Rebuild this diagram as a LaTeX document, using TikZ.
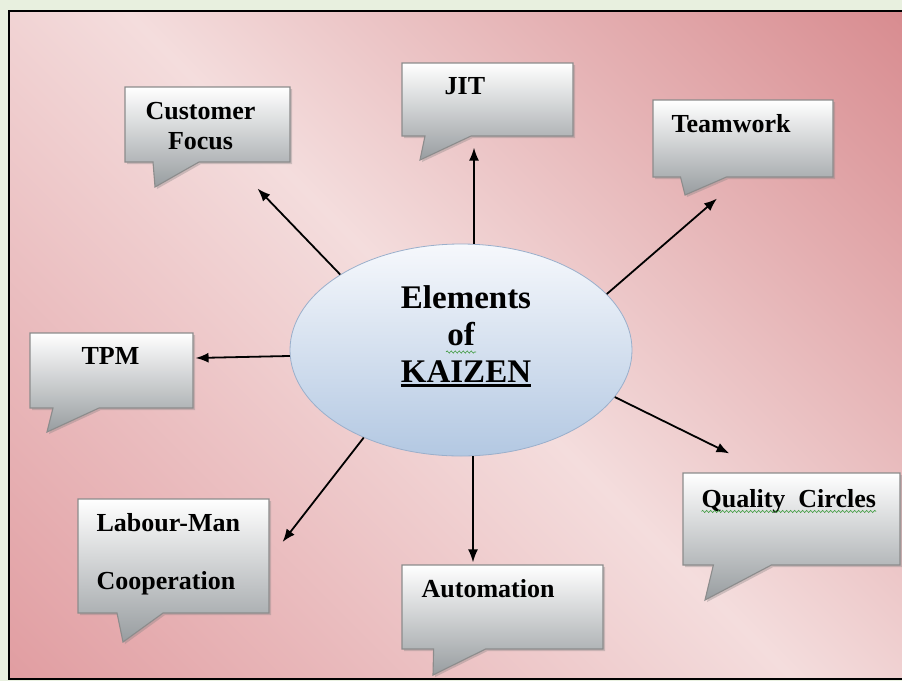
\documentclass[tikz,border=0pt]{standalone}
\usepackage{fontspec}
\setmainfont{Liberation Serif}
\usetikzlibrary{shapes.geometric,shapes.callouts,shadows,arrows.meta,decorations.pathmorphing}

\definecolor{mossbg}{HTML}{E8F0DF}
\definecolor{pkdark}{HTML}{D88C90}
\definecolor{pklight}{HTML}{F4DDDD}
\definecolor{pkmid}{HTML}{E19EA2}
\definecolor{bubedge}{HTML}{8C8C8C}
\definecolor{bubbot}{HTML}{989DA0}
\definecolor{hubtop}{HTML}{F6F8FC}
\definecolor{hubbot}{HTML}{B3C8E2}
\definecolor{hubedge}{HTML}{9AAFCB}
\definecolor{spellgreen}{HTML}{3E9A3E}

\pgfdeclarehorizontalshading{pinkwash}{100bp}{color(0bp)=(pkdark); color(15bp)=(pkdark); color(50bp)=(pklight); color(85bp)=(pkmid); color(100bp)=(pkmid)}

\newcommand\thickul[1]{\vtop{\hbox{#1}\kern2pt\hrule height 2.4pt}}

\begin{document}
\begin{tikzpicture}[x=1pt,y=-1pt,>={Latex[length=13pt,width=10pt]},
    hub/.style={ellipse, draw=hubedge, line width=.8pt, top color=hubtop, bottom color=hubbot,
        minimum width=342pt, minimum height=212pt, inner sep=0pt, align=center,
        font=\fontsize{33}{37}\selectfont\bfseries},
    bubble/.style={rectangle callout, draw=bubedge, line width=1.1pt, top color=white, bottom color=bubbot,
        inner sep=0pt, callout pointer width=46pt,
        drop shadow={opacity=.35, shadow xshift=2pt, shadow yshift=-2pt}},
    bubtext/.style={font=\fontsize{26}{30}\selectfont\bfseries, inner sep=0pt, anchor=base west},
    link/.style={->, line width=1.8pt},
    spell/.style={draw=spellgreen, line width=.6pt, decorate, decoration={snake, amplitude=1.1pt, segment length=4pt}}]
    \useasboundingbox (0,0) rectangle (902,681);
    % backdrop and frame
    \fill[mossbg] (0,0) rectangle (902,681);
    \begin{scope}
        \clip (0,0) rectangle (902,681);
        \fill[shading=pinkwash, shading angle=225] (9,11) rectangle (912,679);
        \draw[line width=2.5pt] (912,11) -- (9,11) -- (9,679) -- (912,679);
    \end{scope}

    % centre
    \node[hub] (hub) at (461,350) {\hspace*{10pt}Elements\\of\\\hspace*{10pt}\thickul{KAIZEN}\rule[-32pt]{0pt}{32pt}};
    \draw[spell] ([shift={(-15,2)}]hub.center) -- ([shift={(15,2)}]hub.center);

    % callouts
    \node[bubble, minimum width=165pt, minimum height=75pt, callout absolute pointer={(155,187)}] (cust) at (207.5,124.5) {};
    \node[bubble, minimum width=171pt, minimum height=73pt, callout absolute pointer={(420,160)}] (jit) at (487.5,99.5) {};
    \node[bubble, minimum width=180pt, minimum height=77pt, callout absolute pointer={(685,195)}] (team) at (743,138.5) {};
    \node[bubble, minimum width=163pt, minimum height=75pt, callout absolute pointer={(47,432)}] (tpm) at (111.5,370.5) {};
    \node[bubble, minimum width=191pt, minimum height=114pt, callout absolute pointer={(123,642)}] (lab) at (173.5,556) {};
    \node[bubble, minimum width=201pt, minimum height=84pt, callout pointer width=52pt, callout absolute pointer={(433,675)}] (auto) at (502.5,607) {};
    \node[bubble, minimum width=217pt, minimum height=92pt, callout pointer width=58pt, callout absolute pointer={(705,600)}] (qual) at (791.5,519) {};

    \node[bubtext, align=center] at ([shift={(21,63)}]cust.north west) {Customer\\Focus};
    \node[bubtext] at ([shift={(43,32)}]jit.north west) {JIT};
    \node[bubtext] at ([shift={(19,33)}]team.north west) {Teamwork};
    \node[bubtext] at ([shift={(52,32)}]tpm.north west) {TPM};
    \node[bubtext, align=left] at ([shift={(19,91)}]lab.north west) {Labour-Man\\[28pt]Cooperation};
    \node[bubtext] at ([shift={(20,33)}]auto.north west) {Automation};
    \node[bubtext] (qualtxt) at ([shift={(19,35)}]qual.north west) {Quality~ Circles};
    \draw[spell] ([yshift=-4pt]qualtxt.base west) -- ([yshift=-4pt]qualtxt.base east);

    % arrows
    \coordinate (jitin) at ([shift={(-13.5,11)}]jit.south);
    \coordinate (autoin) at ([shift={(-29.5,-2)}]auto.north);
    \draw[link] (hub.148) -- ([shift={(-33,26)}]cust.south east);
    \draw[link] (hub.north -| jitin) -- (jitin);
    \draw[link] (hub.21) -- ([shift={(-26,21)}]team.south);
    \draw[link] (hub.182) -- ([shift={(2,-12.5)}]tpm.east);
    \draw[link] (hub.222) -- ([shift={(13,-14)}]lab.east);
    \draw[link] (hub.south -| autoin) -- (autoin);
    \draw[link] (hub.-17) -- ([shift={(47,-19)}]qual.north west);
\end{tikzpicture}
\end{document}
